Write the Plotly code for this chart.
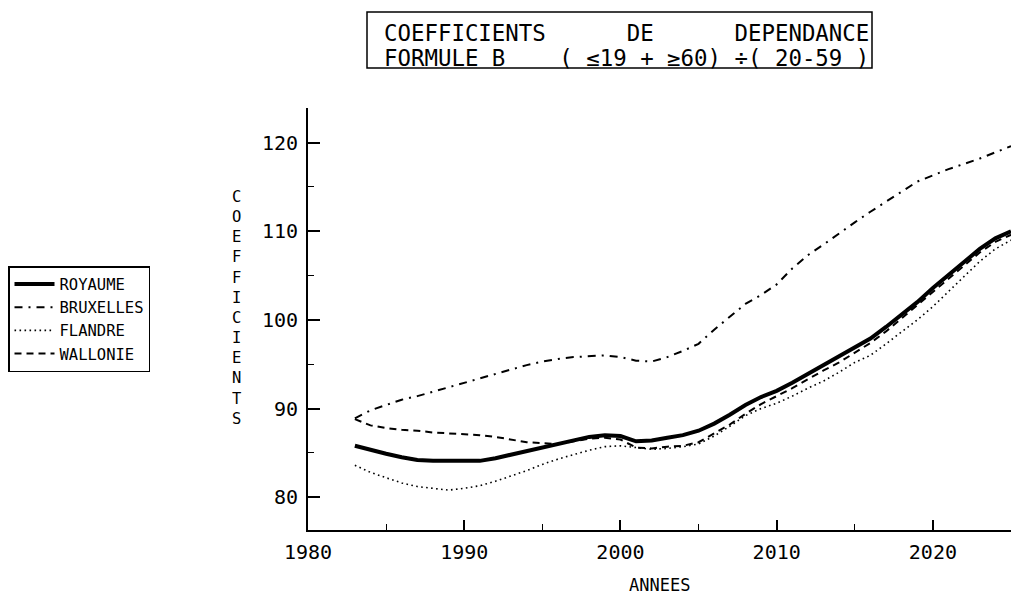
import plotly.graph_objects as go

# Years of the projection
annees = list(range(1983, 2026))

# Dependency coefficients (<=19 + >=60) / (20-59), by region
royaume = [85.8, 85.3, 84.9, 84.5, 84.2, 84.1, 84.1, 84.1, 84.1, 84.4,
           84.8, 85.3, 85.7, 86.0, 86.4, 86.8, 87.0, 86.9, 86.3, 86.4,
           86.7, 87.0, 87.5, 88.3, 89.3, 90.4, 91.3, 92.0, 92.9, 93.9,
           94.9, 95.8, 96.8, 97.9, 99.2, 100.6, 102.0, 103.6, 105.1, 106.6,
           108.0, 109.2, 110.0]
bruxelles = [88.9, 89.8, 90.4, 91.0, 91.4, 91.9, 92.4, 92.9, 93.4, 93.9,
             94.4, 94.9, 95.3, 95.6, 95.8, 95.9, 96.0, 95.8, 95.4, 95.3,
             95.8, 96.5, 97.3, 98.9, 100.4, 101.8, 102.8, 104.0, 105.8, 107.3,
             108.5, 109.8, 111.0, 112.2, 113.3, 114.5, 115.6, 116.3, 117.0, 117.6,
             118.2, 118.9, 119.6]
flandre = [83.6, 82.8, 82.2, 81.6, 81.2, 81.0, 80.8, 81.0, 81.3, 81.8,
           82.4, 83.0, 83.7, 84.3, 84.8, 85.3, 85.7, 85.8, 85.6, 85.4,
           85.5, 85.7, 86.0, 86.9, 88.0, 89.2, 90.0, 90.6, 91.4, 92.3,
           93.1, 94.1, 95.2, 96.0, 97.3, 98.6, 100.0, 101.5, 103.2, 105.0,
           106.6, 108.0, 109.0]
wallonie = [88.8, 88.1, 87.8, 87.6, 87.5, 87.3, 87.2, 87.1, 87.0, 86.8,
            86.5, 86.2, 86.1, 86.0, 86.3, 86.6, 86.7, 86.5, 85.6, 85.5,
            85.7, 85.8, 86.2, 87.2, 88.2, 89.4, 90.5, 91.4, 92.3, 93.3,
            94.3, 95.2, 96.3, 97.4, 98.7, 100.2, 101.6, 103.2, 104.7, 106.2,
            107.6, 108.8, 109.6]

y_ticks = [80, 90, 100, 110, 120]
x_ticks = [1980, 1990, 2000, 2010, 2020]

MONO = "DejaVu Sans Mono"

# Plot area in pixels (for placing the text outside the axes)
L, R, T, B = 308, 1011, 108, 530
W, H = R - L, B - T


def px(x):
    return (x - L) / W


def py(y):
    return (B - y) / H


fig = go.Figure()
fig.add_trace(go.Scatter(x=annees, y=royaume, name="ROYAUME", mode="lines",
                         line=dict(color="black", width=4)))
fig.add_trace(go.Scatter(x=annees, y=bruxelles, name="BRUXELLES", mode="lines",
                         line=dict(color="black", width=2, dash="8px,6px,2px,6px")))
fig.add_trace(go.Scatter(x=annees, y=flandre, name="FLANDRE", mode="lines",
                         line=dict(color="black", width=1.6, dash="1.6px,3.4px")))
fig.add_trace(go.Scatter(x=annees, y=wallonie, name="WALLONIE", mode="lines",
                         line=dict(color="black", width=2, dash="7px,5px")))

nb = "\u00a0"
title1 = "COEFFICIENTS" + nb * 6 + "DE" + nb * 6 + "DEPENDANCE"
title2 = "FORMULE" + nb + "B" + nb * 4 + "(" + nb + "≤19" + nb + "+" + nb + "≥60)" + nb + "÷(" + nb + "20-59" + nb + ")"

annotations = [
    dict(text=title1, x=px(382), y=py(33), xref="paper", yref="paper",
         xanchor="left", yanchor="middle", showarrow=False,
         font=dict(family=MONO, size=22.4, color="black")),
    dict(text=title2, x=px(382), y=py(58), xref="paper", yref="paper",
         xanchor="left", yanchor="middle", showarrow=False,
         font=dict(family=MONO, size=22.4, color="black")),
    dict(text="<br>".join("COEFFICIENTS"), x=px(236), y=py(308),
         xref="paper", yref="paper", xanchor="center", yanchor="middle",
         showarrow=False, font=dict(family=MONO, size=15.5, color="black")),
    dict(text="ANNEES", x=px(659), y=py(585), xref="paper", yref="paper",
         xanchor="center", yanchor="middle", showarrow=False,
         font=dict(family=MONO, size=17, color="black")),
]

shapes = [
    dict(type="rect", xref="paper", yref="paper",
         x0=px(367), x1=px(872), y0=py(68), y1=py(12),
         line=dict(color="black", width=1.5), fillcolor="rgba(0,0,0,0)"),
]

fig.update_layout(
    width=1012, height=595,
    margin=dict(l=L, r=1012 - R, t=T, b=595 - B),
    paper_bgcolor="white", plot_bgcolor="white",
    font=dict(family=MONO, color="black"),
    showlegend=True,
    legend=dict(x=px(8), y=py(266), xanchor="left", yanchor="top",
                bordercolor="black", borderwidth=1.5, bgcolor="white",
                font=dict(family=MONO, size=15.5, color="black"),
                itemwidth=40, tracegroupgap=0,
                entrywidth=150, entrywidthmode="pixels"),
    annotations=annotations,
    shapes=shapes,
    xaxis=dict(range=[1980, 2025], tickvals=x_ticks, showgrid=False, zeroline=False,
               showline=True, linecolor="black", linewidth=2,
               ticks="inside", ticklen=10, tickwidth=1.5, tickcolor="black",
               minor=dict(ticks="inside", ticklen=6, tickwidth=1.2, dtick=5,
                          tick0=1980, tickcolor="black"),
               tickfont=dict(family=MONO, size=20, color="black"),
               ticklabelstandoff=3),
    yaxis=dict(range=[76.3, 123.9], tickvals=y_ticks, showgrid=False, zeroline=False,
               showline=True, linecolor="black", linewidth=2,
               ticks="inside", ticklen=12, tickwidth=1.5, tickcolor="black",
               minor=dict(ticks="inside", ticklen=6, tickwidth=1.2, dtick=5,
                          tick0=80, tickcolor="black"),
               tickfont=dict(family=MONO, size=20, color="black"),
               ticklabelstandoff=4),
)

fig.write_html("out.html")
